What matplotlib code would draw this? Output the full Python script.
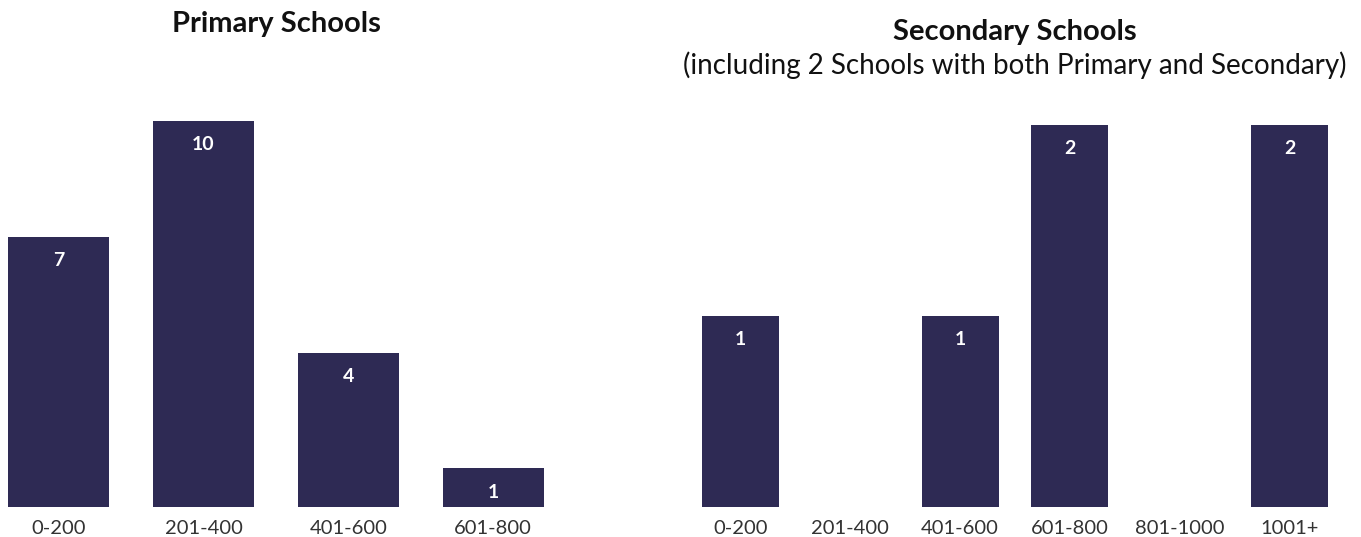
import matplotlib.pyplot as plt

# school counts by enrolment band
primary_bands = ['0-200', '201-400', '401-600', '601-800']
primary_counts = [7, 10, 4, 1]

secondary_bands = ['0-200', '201-400', '401-600', '601-800', '801-1000', '1001+']
secondary_counts = [1, 0, 1, 2, 0, 2]

bar_color = '#2e2a54'
plt.rcParams['font.family'] = ['Lato', 'DejaVu Sans']

W, H = 1361, 537
fig = plt.figure(figsize=(W / 100, H / 100), dpi=100)

# axes placed in pixel units (left, right, top) with a shared baseline
base = 507


def make_axes(left, right, top):
    return fig.add_axes([left / W, 1 - base / H, (right - left) / W, (base - top) / H])


def draw(ax, bands, counts, ymax):
    x = range(len(bands))
    bars = ax.bar(x, counts, width=0.7, color=bar_color)
    ax.set_xlim(-0.35, len(bands) - 0.65)
    ax.set_ylim(0, ymax)
    ax.set_xticks(list(x))
    ax.set_xticklabels(bands, fontsize=14.5, color='#333333')
    ax.tick_params(axis='x', length=0, pad=9)
    ax.set_yticks([])
    for s in ax.spines.values():
        s.set_visible(False)
    for b, v in zip(bars, counts):
        if v > 0:
            ax.annotate(str(v), (b.get_x() + b.get_width() / 2, v),
                        xytext=(0, -17), textcoords='offset points',
                        ha='center', va='center', color='white',
                        fontsize=14, fontweight='bold')


ax1 = make_axes(8, 544, 121)
draw(ax1, primary_bands, primary_counts, 10)

ax2 = make_axes(702, 1328, 125)
draw(ax2, secondary_bands, secondary_counts, 2)

fig.text(276 / W, 1 - 24 / H, 'Primary Schools', ha='center', va='center',
         fontsize=21, fontweight='bold', color='#111111')
fig.text(1015 / W, 1 - 32 / H, 'Secondary Schools', ha='center', va='center',
         fontsize=21, fontweight='bold', color='#111111')
fig.text(1015 / W, 1 - 65 / H, '(including 2 Schools with both Primary and Secondary)',
         ha='center', va='center', fontsize=20, color='#111111')

fig.savefig('out.png', dpi=100)
